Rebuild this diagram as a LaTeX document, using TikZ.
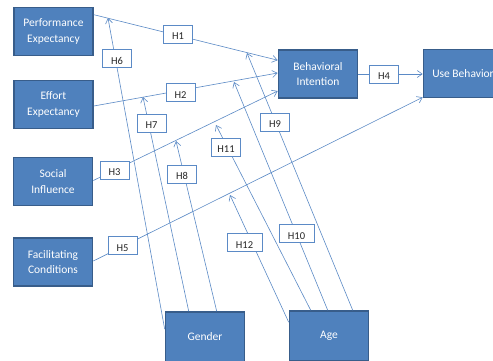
\documentclass[tikz,border=0pt]{standalone}
\usepackage{fontspec}
\setmainfont{Carlito}
\usetikzlibrary{arrows.meta,calc}
\definecolor{boxfill}{HTML}{4F81BD}
\definecolor{boxline}{HTML}{385D8A}
\definecolor{conn}{HTML}{5B8AC6}
\tikzset{
  box/.style={draw=boxline, fill=boxfill, line width=1.6pt, minimum width=79pt, minimum height=48pt,
    text=white, align=center, font=\fontsize{11.5}{15.5}\selectfont, inner sep=1pt},
  lab/.style={draw=conn, fill=white, line width=0.7pt, minimum width=29pt, text height=13pt, text depth=2pt,
    inner ysep=1.5pt, inner xsep=1pt, font=\fontsize{10.5}{12}\selectfont, text=black!85},
  conline/.style={draw=conn, line width=0.6pt, -{Straight Barb[length=5pt,width=7pt,line width=0.6pt]}},
}
\begin{document}
\begin{tikzpicture}[x=1pt,y=-1pt]
\useasboundingbox (0,0) rectangle (493,360);
\clip (0,0) rectangle (493,360);
\fill[white] (0,0) rectangle (493,360);
% main boxes
\node[box] (pe) at (53.5,31.5) {Performance\\Expectancy};
\node[box] (ee) at (53.5,104.5) {Effort\\Expectancy};
\node[box] (si) at (53,181.5) {Social\\Influence};
\node[box] (fc) at (53,262) {Facilitating\\Conditions};
\node[box] (bi) at (318,74) {Behavioral\\Intention};
\node[box] (ub) at (463,73.5) {Use Behavior};
\node[box, minimum height=50pt] (g) at (205,337) {Gender};
\node[box, minimum height=50pt] (a) at (329,336) {Age};
% targets of moderator arrows
\coordinate (t6) at (108,18);
\coordinate (t7) at (143,97);
\coordinate (t8) at (176,141);
\coordinate (t9) at (247,53);
\coordinate (t10) at (234,82);
\coordinate (t11) at (216,125);
\coordinate (t12) at (230,195);
% main paths
\draw[conline] ($(pe.north east)+(0,8)$) -- ($(bi.north west)+(0,11)$);
\draw[conline] ($(ee.east)+(0,1.5)$) -- ($(bi.west)+(0,-1)$);
\draw[conline] ($(si.east)+(0,-1)$) -- ($(bi.west)+(0,17)$);
\draw[conline] (bi.east) -- (ub.west |- bi.east);
\draw[conline] ($(fc.east)+(0,-1)$) -- ($(ub.south west)+(0,-1)$);
% moderators
\draw[conline] ($(g.north west)+(0,18)$) -- (t6);
\draw[conline] ($(g.north west)+(24,0)$) -- (t7);
\draw[conline] ($(g.north west)+(52,0)$) -- (t8);
\draw[conline] ($(a.north west)+(64,0)$) -- (t9);
\draw[conline] ($(a.north west)+(39,0)$) -- (t10);
\draw[conline] ($(a.north west)+(22,0)$) -- (t11);
\draw[conline] ($(a.north west)+(0,12)$) -- (t12);
% labels
\node[lab] (h1) at (178,34) {H1};
\node[lab] (h2) at (180.5,92.5) {H2};
\node[lab] (h3) at (114.5,170) {H3};
\node[lab] (h4) at (384,74) {H4};
\node[lab] (h5) at (122.5,245.5) {H5};
\node[lab] (h6) at (117,58.5) {H6};
\node[lab] (h7) at (151.5,123) {H7};
\node[lab] (h8) at (182,174) {H8};
\node[lab] (h9) at (275,122) {H9};
\node[lab, minimum width=35pt] (h10) at (296.5,233.5) {H10};
\node[lab] (h11) at (226,147) {H11};
\node[lab, minimum width=35pt] (h12) at (244.5,242.5) {H12};
\end{tikzpicture}
\end{document}
